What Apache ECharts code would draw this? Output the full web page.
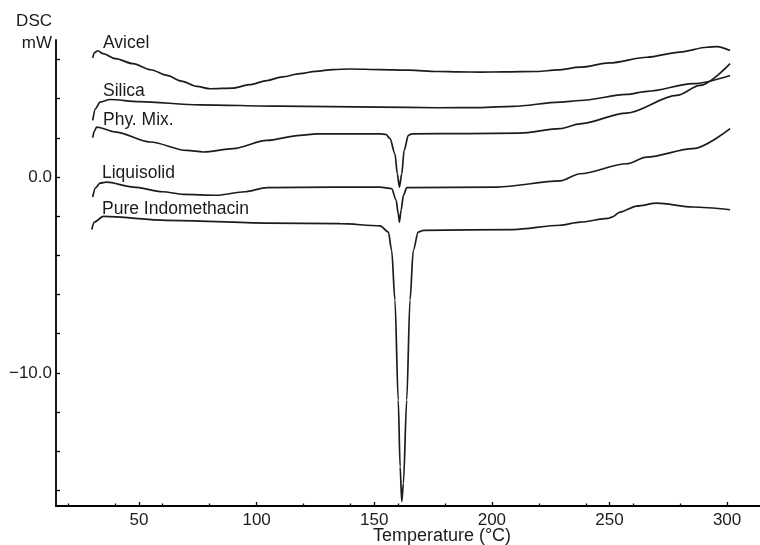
<!DOCTYPE html>
<html>
<head>
<meta charset="utf-8">
<script src="https://cdn.jsdelivr.net/npm/echarts@6/dist/echarts.min.js"></script>
<style>html,body{margin:0;padding:0;background:#fff}#c{width:760px;height:545px}</style>
</head>
<body>
<div id="c"></div>
<script>
// ---- data (Temperature °C, DSC mW) ----
const avicelT = [30.3, 31.0, 32.5, 34.7, 40, 47.4, 55, 61.9, 68, 74.6, 80.2, 90, 97, 104.4, 111, 118.4, 125, 132.5, 140, 152.5, 165, 176.7, 186, 195, 205, 219.2, 228, 237.5, 250, 266, 280, 291.5, 295.7, 301.3];
const avicelV = [6.09, 6.35, 6.45, 6.30, 6.05, 5.79, 5.48, 5.19, 4.90, 4.63, 4.51, 4.54, 4.72, 4.93, 5.12, 5.28, 5.40, 5.49, 5.52, 5.49, 5.46, 5.39, 5.37, 5.36, 5.37, 5.39, 5.47, 5.61, 5.83, 6.12, 6.38, 6.63, 6.66, 6.46];

const silicaT = [30.3, 31.5, 33.4, 37.7, 50, 75.9, 110, 152.5, 176.7, 195, 209, 229, 237.5, 257.3, 266, 285.5, 301.3];
const silicaV = [2.89, 3.50, 3.83, 3.96, 3.85, 3.69, 3.62, 3.57, 3.54, 3.55, 3.61, 3.83, 3.91, 4.22, 4.38, 4.77, 5.19];

const phyMixT = [30.3, 31.0, 32.0, 40, 54.7, 70.3, 77.3, 90, 104.3, 118.4, 125.5, 152.5, 155, 156.7, 158.8, 159.8, 160.7, 161.7, 162.7, 164.5, 166, 190, 211.9, 229, 237.5, 257.3, 278.6, 288.5, 301.3];
const phyMixV = [2.01, 2.35, 2.55, 2.30, 1.79, 1.36, 1.28, 1.45, 1.87, 2.13, 2.21, 2.21, 2.18, 1.96, 1.19, 0.17, -0.51, 0.17, 1.36, 2.13, 2.21, 2.22, 2.24, 2.47, 2.72, 3.27, 4.17, 4.68, 5.79];

const liquiT = [30.3, 31.5, 33.4, 36.2, 47.6, 60, 68.8, 83, 95, 104.3, 132.6, 152.5, 157.4, 159.3, 160.2, 160.7, 161.4, 162.4, 163.8, 202.2, 229, 237.5, 257.3, 265.8, 285.5, 301.3];
const liquiV = [-1.02, -0.55, -0.31, -0.26, -0.51, -0.75, -0.88, -0.93, -0.75, -0.54, -0.51, -0.51, -0.59, -1.18, -1.87, -2.30, -1.70, -0.94, -0.54, -0.51, -0.20, 0.17, 0.68, 1.02, 1.45, 2.47];

const indoT = [29.9, 31.0, 34.8, 61.8, 104.3, 135.4, 152.5, 156.0, 157.4, 158.8, 160.2, 161.0, 161.7, 162.4, 163.8, 165.2, 166.6, 168.7, 170.9, 209.1, 229, 237.5, 249.4, 251, 254.5, 261.6, 270.1, 285.5, 301.3];
const indoV = [-2.68, -2.30, -2.01, -2.21, -2.35, -2.38, -2.49, -2.81, -3.74, -6.29, -11.39, -14.8, -16.58, -15.64, -11.39, -6.29, -3.74, -2.81, -2.72, -2.68, -2.46, -2.30, -2.11, -2.05, -1.79, -1.48, -1.33, -1.53, -1.67];

const seriesNames = ['Avicel', 'Silica', 'Phy. Mix.', 'Liquisolid', 'Pure Indomethacin'];
const xLabelValues = [50, 100, 150, 200, 250, 300];
const xMinorTicks = [20, 40, 60, 80, 120, 140, 160, 180, 220, 240, 260, 280];
const yTickValues = [-16, -14, -12, -10, -8, -6, -4, -2, 0, 2, 4, 6];
const yLabelValues = [-10, 0];

const zip = (t, v) => t.map((x, i) => [x, v[i]]);
const FONT = 'Liberation Sans, Arial, Helvetica, sans-serif';
const INK = '#1c1c1c';

const chart = echarts.init(document.getElementById('c'), null, {renderer: 'canvas'});
const lineStyle = {color: INK, width: 1.7};
const mk = (name, t, v) => ({
  name, type: 'line', data: zip(t, v), showSymbol: false, symbol: 'none',
  smooth: 0.3, smoothMonotone: 'x', lineStyle, xAxisIndex: 0, yAxisIndex: 0, z: 3
});

const labelPos = [[103, 43], [103, 91], [103, 120], [102, 173], [102, 209]];

chart.setOption({
  animation: false,
  backgroundColor: '#fff',
  grid: {left: 56, right: 0, top: 40, bottom: 39, containLabel: false},
  xAxis: [{
    type: 'value', min: 14.7, max: 314,
    axisLine: {show: true, onZero: false, lineStyle: {color: '#000', width: 1.8}},
    axisTick: {show: true, inside: true, length: 4, customValues: xLabelValues, lineStyle: {color: '#000', width: 1.3}},
    axisLabel: {customValues: xLabelValues, margin: 6, color: INK, fontSize: 17, fontFamily: FONT},
    splitLine: {show: false}
  }, {
    type: 'value', min: 14.7, max: 314, position: 'bottom',
    axisLine: {show: false, onZero: false},
    axisTick: {show: true, inside: true, length: 2.5, customValues: xMinorTicks, lineStyle: {color: '#000', width: 1.3}},
    axisLabel: {show: false},
    splitLine: {show: false}
  }],
  yAxis: {
    type: 'value', min: -16.8, max: 7,
    axisLine: {show: true, onZero: false, lineStyle: {color: '#000', width: 1.8}},
    axisTick: {show: true, inside: true, length: 4, customValues: yTickValues, lineStyle: {color: '#000', width: 1.3}},
    axisLabel: {customValues: yLabelValues, margin: 4, color: INK, fontSize: 17, fontFamily: FONT,
      formatter: v => (v < 0 ? '\u2212' : '') + Math.abs(v).toFixed(1)},
    splitLine: {show: false}
  },
  series: [
    mk(seriesNames[0], avicelT, avicelV),
    mk(seriesNames[1], silicaT, silicaV),
    mk(seriesNames[2], phyMixT, phyMixV),
    mk(seriesNames[3], liquiT, liquiV),
    mk(seriesNames[4], indoT, indoV)
  ],
  graphic: [
    ...seriesNames.map((n, i) => ({
      type: 'text', x: labelPos[i][0], y: labelPos[i][1],
      style: {text: n, fill: INK, font: '17.5px ' + FONT, textVerticalAlign: 'middle', textAlign: 'left'}
    })),
    {type: 'text', x: 52, y: 21, style: {text: 'DSC', fill: INK, font: '17px ' + FONT, textAlign: 'right', textVerticalAlign: 'middle'}},
    {type: 'text', x: 52, y: 43, style: {text: 'mW', fill: INK, font: '17px ' + FONT, textAlign: 'right', textVerticalAlign: 'middle'}},
    {type: 'text', x: 442, y: 536, style: {text: 'Temperature (\u00B0C)', fill: INK, font: '18px ' + FONT, textAlign: 'center', textVerticalAlign: 'middle'}}
  ]
});
</script>
</body>
</html>
